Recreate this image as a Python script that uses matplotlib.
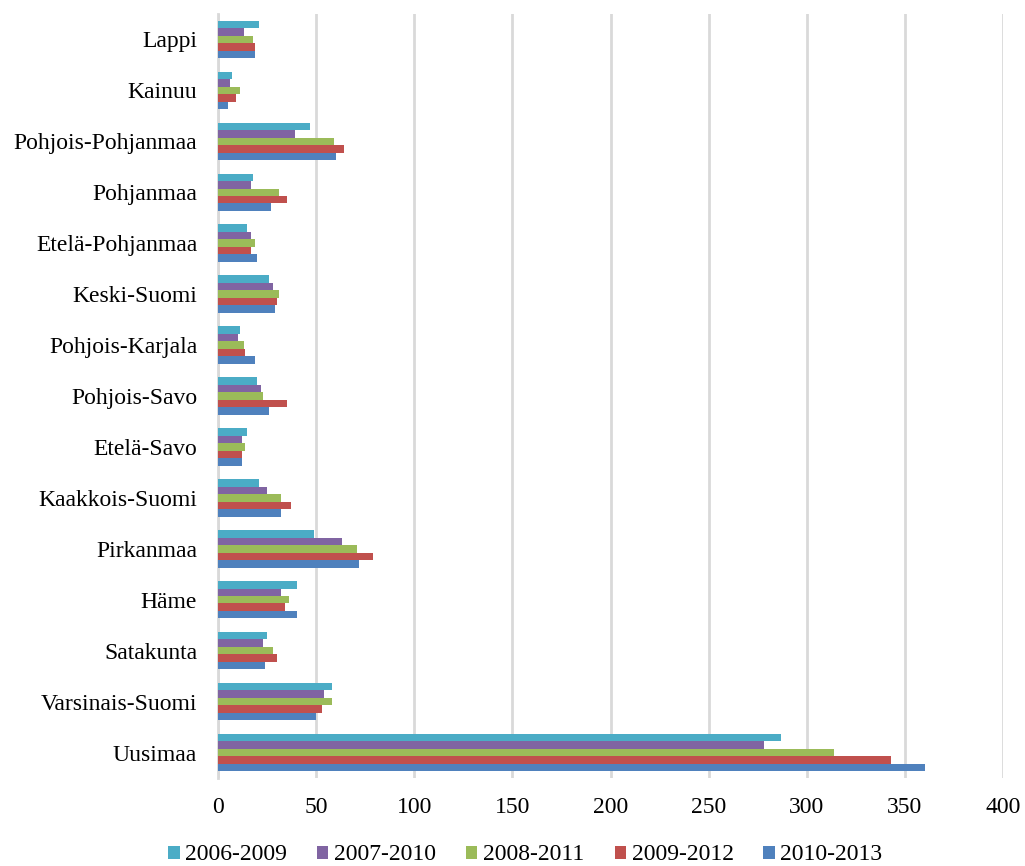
import numpy as np
import matplotlib.pyplot as plt
from matplotlib.patches import Patch

regions = ["Uusimaa", "Varsinais-Suomi", "Satakunta", "Häme", "Pirkanmaa",
           "Kaakkois-Suomi", "Etelä-Savo", "Pohjois-Savo", "Pohjois-Karjala",
           "Keski-Suomi", "Etelä-Pohjanmaa", "Pohjanmaa", "Pohjois-Pohjanmaa",
           "Kainuu", "Lappi"]

periods = ["2006-2009", "2007-2010", "2008-2011", "2009-2012", "2010-2013"]

v_2006_2009 = [287, 58, 25, 40, 49, 21, 15, 20, 11, 26, 15, 18, 47, 7, 21]
v_2007_2010 = [278, 54, 23, 32, 63, 25, 12, 22, 10, 28, 17, 17, 39, 6, 13]
v_2008_2011 = [314, 58, 28, 36, 71, 32, 14, 23, 13, 31, 19, 31, 59, 11, 18]
v_2009_2012 = [343, 53, 30, 34, 79, 37, 12, 35, 14, 30, 17, 35, 64, 9, 19]
v_2010_2013 = [360, 50, 24, 40, 72, 32, 12, 26, 19, 29, 20, 27, 60, 5, 19]

series = [v_2006_2009, v_2007_2010, v_2008_2011, v_2009_2012, v_2010_2013]
colors = ["#4BACC6", "#8064A2", "#9BBB59", "#C0504D", "#4F81BD"]

plt.rcParams["font.family"] = ["Liberation Serif", "DejaVu Serif"]

fig = plt.figure(figsize=(10.25, 8.66), dpi=100)
ax = fig.add_axes([218 / 1025, 1 - 778 / 866, (1003 - 218) / 1025, (778 - 14) / 866])

y = np.arange(len(regions))
bar_h = 0.147
# first series sits on top of each group, last at the bottom
offsets = [2 * bar_h, bar_h, 0, -bar_h, -2 * bar_h]
for vals, off, col, lab in zip(series, offsets, colors, periods):
    ax.barh(y + off, vals, height=bar_h, color=col, label=lab, zorder=3)

ax.set_xlim(0, 400)
ax.set_ylim(-0.5, len(regions) - 0.5)
ax.set_xticks(np.arange(0, 401, 50))
ax.set_yticks(y)
ax.set_yticklabels(regions)
ax.tick_params(axis="both", length=0, labelsize=17)
ax.tick_params(axis="y", pad=15)
ax.tick_params(axis="x", pad=14)
ax.grid(axis="x", color="#D9D9D9", linewidth=2, zorder=0)
for s in ["top", "right", "bottom"]:
    ax.spines[s].set_visible(False)
ax.spines["left"].set_color("#D9D9D9")
ax.spines["left"].set_linewidth(2)

handles = [Patch(facecolor=c, edgecolor="none") for c in colors]
fig.legend(handles, periods, loc="center", bbox_to_anchor=(0.5127, 1 - 855 / 866),
           ncol=5, frameon=False, fontsize=17, handlelength=0.47, handleheight=0.47,
           handletextpad=0.25, columnspacing=1.27, borderaxespad=0)

fig.savefig("out.png", dpi=100)
